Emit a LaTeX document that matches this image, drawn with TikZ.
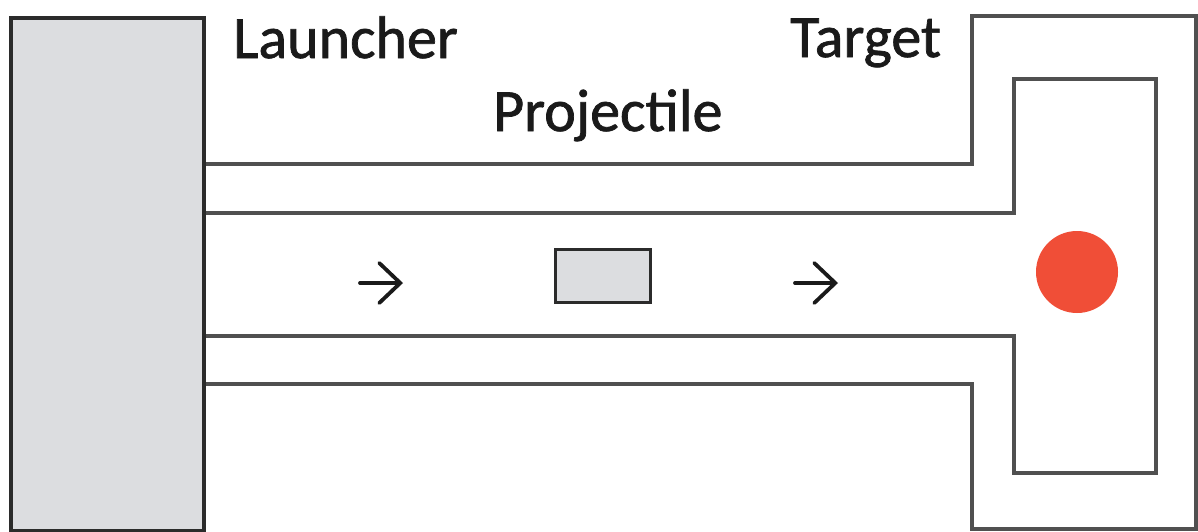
\documentclass[tikz,border=0pt]{standalone}
\usepackage{fontspec}
\setmainfont{Carlito}[FakeBold=1.2]
\usetikzlibrary{arrows.meta}
\definecolor{wallc}{HTML}{505050}
\definecolor{edgec}{HTML}{2B2B2B}
\definecolor{boxfill}{HTML}{DCDDE0}
\definecolor{redc}{HTML}{F04E37}
\definecolor{textc}{HTML}{1A1A1A}
\tikzset{
  wall/.style={draw=wallc, line width=3.5pt, line join=miter},
  solidbox/.style={draw=edgec, fill=boxfill, line width=3.6pt, inner sep=0pt},
  lbl/.style={inner sep=0pt, anchor=base west, text=textc, font=\fontsize{60}{72}\selectfont},
  flow/.style={draw=textc, line width=3.8pt, line cap=round, -{Straight Barb[length=21pt, width=40pt, line width=3.8pt, line cap=round]}}
}
\begin{document}
\begin{tikzpicture}[x=1pt, y=-1pt]
\useasboundingbox (0,0) rectangle (1198,531);
\fill[white] (0,0) rectangle (1198,531);
% outer channel wall / target housing
\draw[wall] (202,164) -- (972,164) -- (972,16) -- (1196,16) -- (1196,529) -- (972,529) -- (972,384) -- (202,384);
% inner channel wall / target chamber
\draw[wall] (202,213) -- (1014,213) -- (1014,79) -- (1156,79) -- (1156,473) -- (1014,473) -- (1014,336) -- (202,336);
% launcher
\node[solidbox, minimum width=193pt, minimum height=513pt, anchor=north west] (launcher) at (9,16) {};
% projectile
\node[solidbox, line width=3.4pt, minimum width=95pt, minimum height=53pt, anchor=north west] (proj) at (554,248) {};
% target
\node[circle, fill=redc, minimum size=82pt, inner sep=0pt] (target) at (1077,272) {};
% labels
\node[lbl] (tlaunch) at (233,58) {Launcher};
\node[lbl] (tproj) at (493,131) {Projectile};
\node[lbl] (ttarget) at (790,57) {Target};
% arrows
\coordinate (a1s) at (360,283);
\coordinate (a1e) at (403,283);
\coordinate (a2s) at (795,283);
\coordinate (a2e) at (838,283);
\draw[flow] (a1s) -- (a1e);
\draw[flow] (a2s) -- (a2e);
\end{tikzpicture}
\end{document}
